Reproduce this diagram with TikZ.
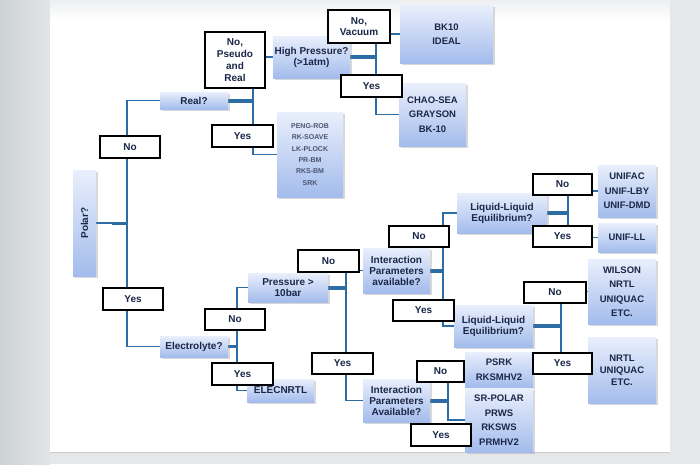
\documentclass[tikz,border=0pt]{standalone}
\usepackage{fontspec}
\setmainfont{Liberation Sans}
\usetikzlibrary{shadows,calc}
\pgfdeclarelayer{bg}\pgfdeclarelayer{lines}\pgfsetlayers{bg,lines,main}
\definecolor{linec}{HTML}{2C6DA6}
\definecolor{txt}{HTML}{1B2748}
\definecolor{btop}{HTML}{E9EFFC}
\definecolor{bbot}{HTML}{A3BCEC}
\definecolor{outerg}{HTML}{E6E7E8}
\definecolor{leftgA}{HTML}{CDD2D4}
\definecolor{leftgB}{HTML}{E2E5E6}
\definecolor{topg}{HTML}{EDEFF1}
\definecolor{lighttxt}{HTML}{4A5470}
\newcommand\myq{\bfseries\fontsize{10}{11}\selectfont}
\newcommand\myl{\bfseries\fontsize{9.5}{14.5}\selectfont}
\newcommand\myb{\bfseries\fontsize{10}{12}\selectfont}
\tikzset{
  box/.style={draw=none, top color=btop, bottom color=bbot, inner sep=0pt, align=center,
    text=txt, font=\myq, drop shadow={shadow xshift=1.5pt, shadow yshift=-1.5pt, opacity=0.3}},
  listbox/.style={box, font=\myl},
  lbl/.style={draw=black, line width=2.2pt, fill=white, inner sep=0pt, align=center,
    text=txt, font=\myb},
  conn/.style={draw=linec, line width=1.8pt},
  stub/.style={draw=linec, line width=4pt},
}
\begin{document}
\begin{tikzpicture}[x=1pt,y=-1pt]
\useasboundingbox (0,0) rectangle (700,464);
\begin{pgfonlayer}{bg}
\fill[outerg] (0,0) rectangle (700,464);
\shade[left color=leftgA, right color=leftgB] (0,0) rectangle (50,464);
\fill[white] (50,0) rectangle (670,452);
\shade[top color=topg, bottom color=white] (50,0) rectangle (670,20);
\draw[gray!40, line width=0.6pt] (50,452.5) -- (670,452.5);
\end{pgfonlayer}

% ---------- question / result boxes ----------
\node[box, minimum width=23pt, minimum height=106pt] (polar) at (84.5,223) {\rotatebox{90}{Polar?}};
\node[box, minimum width=68pt, minimum height=17pt] (real) at (194,100.5) {Real?};
\node[box, minimum width=77pt, minimum height=42pt] (hp) at (311.5,57) {High Pressure?\\(>1atm)};
\node[box, minimum width=66pt, minimum height=85pt, font=\bfseries\fontsize{7}{11.3}\selectfont, text=lighttxt] (peng) at (310,154.5)
  {PENG-ROB\\RK-SOAVE\\LK-PLOCK\\PR-BM\\RKS-BM\\SRK};
\node[listbox, minimum width=93pt, minimum height=58pt] (bk10) at (446.5,34) {BK10\\IDEAL};
\node[listbox, minimum width=67pt, minimum height=63pt] (chao) at (432.5,114.5) {CHAO-SEA\\GRAYSON\\BK-10};

\node[box, minimum width=68pt, minimum height=21pt] (elec) at (194,346.5) {Electrolyte?};
\node[box, minimum width=67pt, minimum height=23pt] (elecnrtl) at (280.5,390.5) {ELECNRTL};
\node[box, minimum width=80pt, minimum height=29pt] (press) at (288,287.5) {Pressure >\\10bar};
\node[box, minimum width=67pt, minimum height=45pt] (ipU) at (396.5,270.5) {Interaction\\Parameters\\available?};
\node[box, minimum width=67pt, minimum height=43pt] (ipL) at (396.5,400.5) {Interaction\\Parameters\\Available?};
\node[box, minimum width=90pt, minimum height=40pt] (lleU) at (502,213) {Liquid-Liquid\\Equilibrium?};
\node[box, minimum width=79pt, minimum height=42pt] (lleL) at (493.5,326) {Liquid-Liquid\\Equilibrium?};
\node[listbox, minimum width=58pt, minimum height=52pt] (unifac) at (627,191) {UNIFAC\\UNIF-LBY\\UNIF-DMD};
\node[listbox, minimum width=58pt, minimum height=29pt] (unifll) at (627,237.5) {UNIF-LL};
\node[listbox, minimum width=68pt, minimum height=65pt] (wilson) at (622,291.5) {WILSON\\NRTL\\UNIQUAC\\ETC.};
\node[listbox, minimum width=68pt, minimum height=66pt, font=\bfseries\fontsize{9.5}{12}\selectfont] (nrtl) at (622,370) {NRTL\\UNIQUAC\\ETC.};
\node[listbox, minimum width=68pt, minimum height=35pt] (psrk) at (499,369.5) {PSRK\\RKSMHV2};
\node[listbox, minimum width=68pt, minimum height=64pt] (srpolar) at (499,420) {SR-POLAR\\PRWS\\RKSWS\\PRMHV2};

% ---------- junction coordinates ----------
\coordinate (trunk) at (127,223);
\coordinate (rj) at (253,100.5);
\coordinate (hj) at (376,57);
\coordinate (ej) at (237,346.5);
\coordinate (pj) at (346,287.5);
\coordinate (uj) at (443,270.5);
\coordinate (lj) at (568,213);
\coordinate (mj) at (561,326);
\coordinate (kj) at (448,400.5);

% ---------- connectors ----------
\begin{pgfonlayer}{lines}
\draw[conn] (polar.east) -- (trunk);
\draw[stub, line width=3pt] ($(trunk)+(-15,0)$) -- (trunk);
\draw[conn] (real.west) -| (trunk) |- (elec.west);
\draw[stub] (real.east) -- (rj);
\draw[conn] (rj) |- (hp.west);
\draw[conn] (rj) |- (peng.west);
\draw[stub] (hp.east) -- (hj);
\draw[conn] (hj) |- (bk10.west);
\draw[conn] (hj) |- (chao.west);
\draw[stub, line width=3pt] (elec.east) -- (ej);
\draw[conn] (ej) |- (press.west);
\draw[conn] (ej) |- (elecnrtl.west);
\draw[stub] (press.east) -- (pj);
\draw[conn] (pj) |- (ipU.west);
\draw[conn] (pj) |- (ipL.west);
\draw[stub] (ipU.east) -- (uj);
\draw[conn] (uj) |- (lleU.west);
\draw[conn] (uj) |- (lleL.west);
\draw[stub] (lleU.east) -- (lj);
\draw[conn] (lj) |- (unifac.west);
\draw[conn] (lj) |- (unifll.west);
\draw[stub] (lleL.east) -- (mj);
\draw[conn] (mj) |- (wilson.west);
\draw[conn] (mj) |- (nrtl.west);
\draw[stub] (ipL.east) -- (kj);
\draw[conn] (kj) |- (psrk.west);
\draw[conn] (kj) |- (srpolar.west);
\end{pgfonlayer}

% ---------- yes / no labels ----------
\node[lbl, minimum width=60pt, minimum height=22pt] (noL) at (130,147) {No};
\node[lbl, minimum width=60pt, minimum height=22pt] (yesL) at (133,299) {Yes};
\node[lbl, minimum width=60pt, minimum height=56pt] (pseudo) at (235,60) {No,\\Pseudo\\and\\Real};
\node[lbl, minimum width=61pt, minimum height=22pt] (yesM) at (242.5,136) {Yes};
\node[lbl, minimum width=62pt, minimum height=33pt, font=\bfseries\fontsize{10}{11}\selectfont] (vac) at (359,26.5) {No,\\Vacuum};
\node[lbl, minimum width=61pt, minimum height=22pt] (yesT) at (371.5,86) {Yes};
\node[lbl, minimum width=60pt, minimum height=21pt] (noE) at (235,319.5) {No};
\node[lbl, minimum width=61pt, minimum height=22pt] (yesE) at (242.5,374) {Yes};
\node[lbl, minimum width=61pt, minimum height=22pt] (noP) at (328.5,261) {No};
\node[lbl, minimum width=61pt, minimum height=21pt] (yesP) at (342.5,363.5) {Yes};
\node[lbl, minimum width=60pt, minimum height=21pt] (noU) at (419,236.5) {No};
\node[lbl, minimum width=61pt, minimum height=21pt] (yesU) at (423.5,310.5) {Yes};
\node[lbl, minimum width=59pt, minimum height=21pt] (noLL) at (562.5,184.5) {No};
\node[lbl, minimum width=59pt, minimum height=21pt] (yesLL) at (562.5,236.5) {Yes};
\node[lbl, minimum width=62pt, minimum height=21pt] (noW) at (555,292.5) {No};
\node[lbl, minimum width=59pt, minimum height=21pt] (yesN) at (562.5,363.5) {Yes};
\node[lbl, minimum width=47pt, minimum height=21pt] (noPS) at (440.5,371.5) {No};
\node[lbl, minimum width=60pt, minimum height=22pt] (yesSR) at (441,435) {Yes};
\end{tikzpicture}
\end{document}
